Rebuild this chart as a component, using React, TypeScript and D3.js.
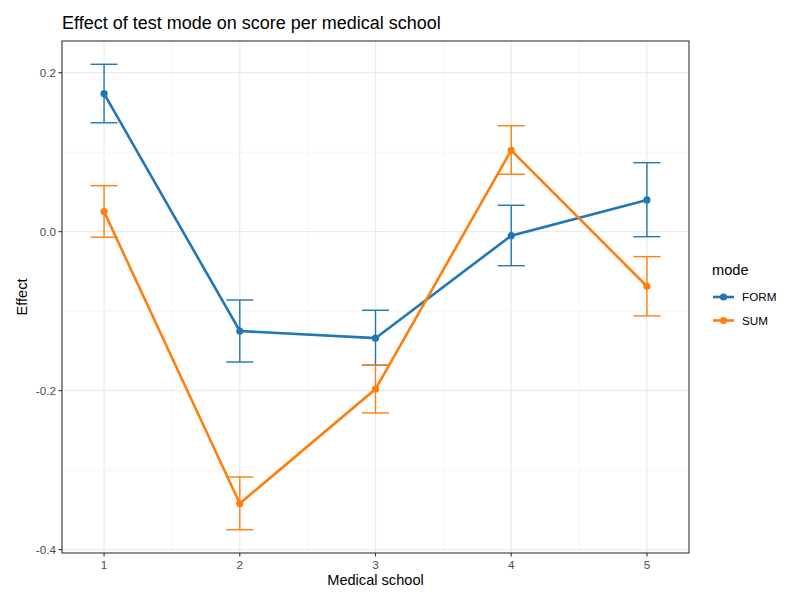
import React from 'react';
import * as d3 from 'd3';

// per-school estimates with lower / upper confidence limits
const schools = [1, 2, 3, 4, 5];
const formEffect = [0.1736, -0.125, -0.134, -0.005, 0.0399];
const formLower = [0.137, -0.164, -0.168, -0.0428, -0.0063];
const formUpper = [0.2106, -0.086, -0.0989, 0.0332, 0.0868];
const sumEffect = [0.0252, -0.342, -0.198, 0.1024, -0.0687];
const sumLower = [-0.007, -0.375, -0.228, 0.0722, -0.106];
const sumUpper = [0.0579, -0.3086, -0.168, 0.1333, -0.0314];
const yTicks = [-0.4, -0.2, 0.0, 0.2];
const yMinor = [-0.3, -0.1, 0.1];
const xMinor = [1.5, 2.5, 3.5, 4.5];

const modes = [
  { name: 'FORM', color: '#1f77b4', effect: formEffect, lower: formLower, upper: formUpper },
  { name: 'SUM', color: '#ff7f0e', effect: sumEffect, lower: sumLower, upper: sumUpper },
];

const W = 800;
const H = 608;
const panel = { left: 62, top: 41, right: 689, bottom: 553 };
const FONT = '"Liberation Sans", Arial, sans-serif';
const capHalf = 0.1;

export default function App() {
  const lo = d3.min(modes.flatMap(m => m.lower)) as number;
  const hi = d3.max(modes.flatMap(m => m.upper)) as number;
  const padY = (hi - lo) * 0.05;
  const x = d3.scaleLinear()
    .domain([1 - capHalf - 0.21, 5 + capHalf + 0.21])
    .range([panel.left, panel.right]);
  const y = d3.scaleLinear()
    .domain([lo - padY, hi + padY])
    .range([panel.bottom, panel.top]);

  const line = d3.line<number>()
    .x((_, i) => x(schools[i]))
    .y(d => y(d));

  const fmt = (v: number) => v.toFixed(1);

  return (
    <svg width={W} height={H} style={{ position: 'absolute', left: 0, top: 0 }} fontFamily={FONT}>
      <rect width={W} height={H} fill="white" />
      <text x={62} y={29} fontSize={18} fill="#000">Effect of test mode on score per medical school</text>

      {/* grid */}
      <g>
        {yMinor.map(v => (
          <line key={'ym' + v} x1={panel.left} x2={panel.right} y1={y(v)} y2={y(v)} stroke="#f2f2f2" strokeWidth={0.8} />
        ))}
        {xMinor.map(v => (
          <line key={'xm' + v} x1={x(v)} x2={x(v)} y1={panel.top} y2={panel.bottom} stroke="#f2f2f2" strokeWidth={0.8} />
        ))}
        {yTicks.map(v => (
          <line key={'y' + v} x1={panel.left} x2={panel.right} y1={y(v)} y2={y(v)} stroke="#ebebeb" strokeWidth={1.2} />
        ))}
        {schools.map(v => (
          <line key={'x' + v} x1={x(v)} x2={x(v)} y1={panel.top} y2={panel.bottom} stroke="#ebebeb" strokeWidth={1.2} />
        ))}
      </g>

      {/* series */}
      {modes.map(m => (
        <g key={m.name}>
          {schools.map((s, i) => (
            <g key={s} stroke={m.color} strokeWidth={1.4}>
              <line x1={x(s)} x2={x(s)} y1={y(m.lower[i])} y2={y(m.upper[i])} />
              <line x1={x(s - capHalf)} x2={x(s + capHalf)} y1={y(m.lower[i])} y2={y(m.lower[i])} />
              <line x1={x(s - capHalf)} x2={x(s + capHalf)} y1={y(m.upper[i])} y2={y(m.upper[i])} />
            </g>
          ))}
          <path d={line(m.effect) || ''} fill="none" stroke={m.color} strokeWidth={2.6} />
          {schools.map((s, i) => (
            <circle key={s} cx={x(s)} cy={y(m.effect[i])} r={3.6} fill={m.color} />
          ))}
        </g>
      ))}

      <rect x={panel.left} y={panel.top} width={panel.right - panel.left} height={panel.bottom - panel.top}
        fill="none" stroke="#333333" strokeWidth={1.1} />

      {/* y axis */}
      {yTicks.map(v => (
        <g key={v}>
          <line x1={panel.left - 3.5} x2={panel.left} y1={y(v)} y2={y(v)} stroke="#333333" strokeWidth={1.1} />
          <text x={panel.left - 6} y={y(v)} dy="0.35em" textAnchor="end" fontSize={11.7} fill="#4d4d4d">{fmt(v)}</text>
        </g>
      ))}
      {/* x axis */}
      {schools.map(v => (
        <g key={v}>
          <line x1={x(v)} x2={x(v)} y1={panel.bottom} y2={panel.bottom + 3.5} stroke="#333333" strokeWidth={1.1} />
          <text x={x(v)} y={panel.bottom + 16} textAnchor="middle" fontSize={11.7} fill="#4d4d4d">{v}</text>
        </g>
      ))}
      <text x={(panel.left + panel.right) / 2} y={585} textAnchor="middle" fontSize={14.6} fill="#000">Medical school</text>
      <text transform={`translate(27,${(panel.top + panel.bottom) / 2}) rotate(-90)`} textAnchor="middle" fontSize={14.6} fill="#000">Effect</text>

      {/* legend */}
      <text x={712} y={275} fontSize={14.6} fill="#000">mode</text>
      {modes.map((m, i) => (
        <g key={m.name} transform={`translate(0,${297 + i * 23.5})`}>
          <line x1={713} x2={734} y1={0} y2={0} stroke={m.color} strokeWidth={2.6} />
          <circle cx={723.5} cy={0} r={3.6} fill={m.color} />
          <text x={742} y={0} dy="0.35em" fontSize={11.7} fill="#000">{m.name}</text>
        </g>
      ))}
    </svg>
  );
}
